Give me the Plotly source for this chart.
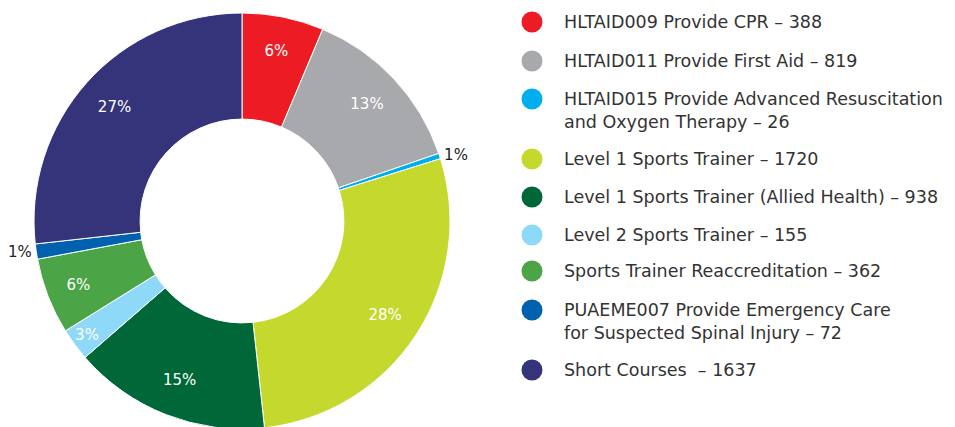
import plotly.graph_objects as go

categories = [
    "HLTAID009 Provide CPR",
    "HLTAID011 Provide First Aid",
    "HLTAID015 Provide Advanced Resuscitation<br>and Oxygen Therapy",
    "Level 1 Sports Trainer",
    "Level 1 Sports Trainer (Allied Health)",
    "Level 2 Sports Trainer",
    "Sports Trainer Reaccreditation",
    "PUAEME007 Provide Emergency Care<br>for Suspected Spinal Injury",
    "Short Courses ",
]
values = [388, 819, 26, 1720, 938, 155, 362, 72, 1637]
pct_labels = ["6%", "13%", "1%", "28%", "15%", "3%", "6%", "1%", "27%"]
colors = ["#ED1C24", "#A7A9AC", "#00AEEF", "#C4D82E", "#006838",
          "#8ED8F8", "#4BA446", "#0062AF", "#35347A"]

FONT = "DejaVu Sans"
W, H = 955, 442  # page is clipped at 427; extra height lets the donut run off the bottom
DOMAIN = dict(x=[34 / W, 450 / W], y=[0.0, 1.0])

textpos = ["outside" if v / sum(values) < 0.02 else "inside" for v in values]

fig = go.Figure()
# the donut itself
fig.add_trace(go.Pie(
    values=values,
    labels=[c.replace("<br>", " ") for c in categories],
    textinfo="none",
    sort=False,
    direction="clockwise",
    rotation=0,
    hole=0.49,
    marker=dict(colors=colors, line=dict(color="white", width=1)),
    domain=DOMAIN,
    showlegend=False,
    hoverinfo="label+value+percent",
))
# transparent overlay that carries the percentage labels further out in the ring
fig.add_trace(go.Pie(
    values=values,
    labels=[c.replace("<br>", " ") for c in categories],
    text=pct_labels,
    textinfo="text",
    textposition=textpos,
    sort=False,
    direction="clockwise",
    rotation=0,
    hole=0.645,
    marker=dict(colors=["rgba(0,0,0,0)"] * len(values), line=dict(width=0)),
    insidetextfont=dict(color="white", size=15, family=FONT),
    outsidetextfont=dict(color="#222222", size=15, family=FONT),
    insidetextorientation="horizontal",
    domain=DOMAIN,
    showlegend=False,
    hoverinfo="skip",
))

# custom legend rows (first-line centre y in pixels from top)
row_y = [22, 61, 99, 159, 197, 235, 271, 310, 370]
fig.add_trace(go.Scatter(
    x=[532] * len(values), y=row_y, mode="markers",
    marker=dict(color=colors, size=21, symbol="circle", line=dict(width=0)),
    xaxis="x2", yaxis="y2", showlegend=False, hoverinfo="skip",
))

annotations = []
for cat, val, y in zip(categories, values, row_y):
    lines = f"{cat} – {val}".split("<br>")
    for i, ln in enumerate(lines):
        annotations.append(dict(
            x=562, y=y + i * 23, xref="x2", yref="y2",
            text=ln.replace("  ", "&nbsp; "),
            showarrow=False, xanchor="left", yanchor="middle",
            font=dict(family=FONT, size=17.5, color="#333333"),
        ))

fig.update_layout(
    width=W, height=H,
    margin=dict(l=0, r=0, t=0, b=0, autoexpand=False),
    paper_bgcolor="white", plot_bgcolor="rgba(0,0,0,0)",
    uniformtext=dict(minsize=15, mode="show"),
    xaxis2=dict(domain=[0, 1], range=[0, W], visible=False, fixedrange=True, automargin=False),
    yaxis2=dict(domain=[0, 1], range=[H, 0], visible=False, fixedrange=True, anchor="x2", automargin=False),
    annotations=annotations,
)
fig.write_html(
    "out.html",
    config={"displayModeBar": False},
    post_script="document.body.style.margin='0';document.body.style.overflow='hidden';",
)
